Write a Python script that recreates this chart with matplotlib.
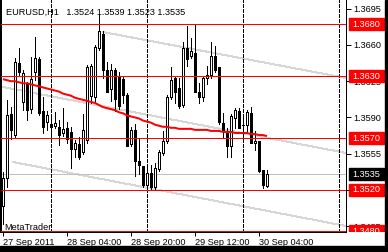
import numpy as np
import matplotlib
matplotlib.use('Agg')
import matplotlib.pyplot as plt
from matplotlib.patches import Rectangle

plt.rcParams['font.family'] = ['Liberation Sans', 'DejaVu Sans']

# EURUSD H1, bars from 27 Sep 2011 12:00 to 30 Sep 2011 06:00
opens = [1.3505, 1.3532, 1.3593, 1.3573, 1.3643, 1.3605, 1.3623, 1.3598, 1.3634, 1.3646,
         1.3596, 1.3586, 1.3584, 1.3582, 1.3581, 1.3575, 1.3580, 1.3576, 1.3560, 1.3564,
         1.3557, 1.3568, 1.3611, 1.3610, 1.3657, 1.3671, 1.3636, 1.3617, 1.3636, 1.3629,
         1.3627, 1.3612, 1.3564, 1.3578, 1.3548, 1.3543, 1.3525, 1.3536, 1.3523, 1.3540,
         1.3556, 1.3567, 1.3610, 1.3628, 1.3618, 1.3602, 1.3657, 1.3649, 1.3652, 1.3615,
         1.3610, 1.3628, 1.3631, 1.3649, 1.3639, 1.3585, 1.3575, 1.3562, 1.3589, 1.3596,
         1.3583, 1.3583, 1.3594, 1.3565, 1.3567, 1.3539, 1.3524]
highs = [1.3537, 1.3607, 1.3600, 1.3647, 1.3657, 1.3636, 1.3624, 1.3648, 1.3668, 1.3648,
         1.3610, 1.3596, 1.3589, 1.3595, 1.3588, 1.3599, 1.3586, 1.3581, 1.3568, 1.3571,
         1.3593, 1.3641, 1.3642, 1.3660, 1.3689, 1.3673, 1.3644, 1.3642, 1.3638, 1.3634,
         1.3630, 1.3614, 1.3581, 1.3584, 1.3569, 1.3543, 1.3545, 1.3544, 1.3546, 1.3559,
         1.3577, 1.3612, 1.3639, 1.3630, 1.3628, 1.3663, 1.3678, 1.3667, 1.3679, 1.3623,
         1.3630, 1.3640, 1.3663, 1.3659, 1.3639, 1.3594, 1.3580, 1.3593, 1.3599, 1.3599,
         1.3592, 1.3597, 1.3600, 1.3577, 1.3567, 1.3539, 1.3539]
lows = [1.3487, 1.3523, 1.3569, 1.3570, 1.3631, 1.3597, 1.3588, 1.3594, 1.3626, 1.3592,
        1.3575, 1.3578, 1.3571, 1.3580, 1.3563, 1.3572, 1.3565, 1.3541, 1.3552, 1.3550,
        1.3555, 1.3565, 1.3604, 1.3604, 1.3655, 1.3628, 1.3615, 1.3606, 1.3596, 1.3598,
        1.3604, 1.3562, 1.3562, 1.3533, 1.3535, 1.3523, 1.3522, 1.3521, 1.3521, 1.3538,
        1.3554, 1.3565, 1.3608, 1.3604, 1.3599, 1.3600, 1.3640, 1.3647, 1.3615, 1.3604,
        1.3606, 1.3622, 1.3628, 1.3634, 1.3584, 1.3570, 1.3552, 1.3552, 1.3580, 1.3580,
        1.3577, 1.3575, 1.3565, 1.3559, 1.3537, 1.3522, 1.3523]
closes = [1.3532, 1.3592, 1.3578, 1.3644, 1.3634, 1.3633, 1.3597, 1.3627, 1.3647, 1.3594,
          1.3581, 1.3592, 1.3581, 1.3585, 1.3573, 1.3579, 1.3569, 1.3560, 1.3565, 1.3552,
          1.3578, 1.3639, 1.3640, 1.3658, 1.3673, 1.3636, 1.3615, 1.3636, 1.3608, 1.3601,
          1.3612, 1.3562, 1.3578, 1.3548, 1.3544, 1.3525, 1.3536, 1.3523, 1.3541, 1.3557,
          1.3567, 1.3610, 1.3626, 1.3615, 1.3601, 1.3657, 1.3646, 1.3654, 1.3615, 1.3610,
          1.3628, 1.3631, 1.3649, 1.3636, 1.3586, 1.3577, 1.3562, 1.3591, 1.3597, 1.3580,
          1.3583, 1.3595, 1.3565, 1.3567, 1.3538, 1.3525, 1.3535]
ma = [1.3627, 1.3626, 1.3625, 1.3625, 1.3624, 1.3623, 1.3623, 1.3622, 1.3621, 1.3620,
      1.3619, 1.3618, 1.3617, 1.3616, 1.3615, 1.3613, 1.3612, 1.3611, 1.3609, 1.3608,
      1.3607, 1.3606, 1.3605, 1.3604, 1.3602, 1.3600, 1.3599, 1.3598, 1.3597, 1.3595,
      1.3594, 1.3592, 1.3591, 1.3590, 1.3589, 1.3587, 1.3586, 1.3585, 1.3583, 1.3582,
      1.3581, 1.3581, 1.3580, 1.3580, 1.3579, 1.3579, 1.3579, 1.3579, 1.3578, 1.3578,
      1.3578, 1.3578, 1.3577, 1.3577, 1.3577, 1.3576, 1.3576, 1.3576, 1.3575, 1.3575,
      1.3575, 1.3575, 1.3574, 1.3574, 1.3573, 1.3573, 1.3572]

levels = [1.3680, 1.3630, 1.3570, 1.3520, 1.3480]
bid = 1.3535
price_ticks = [1.3485, 1.3520, 1.3555, 1.3590, 1.3625, 1.3660, 1.3695]
hidden_ticks = [1.3520]  # fully under a level label
day_breaks = [12, 36, 60, 84]
time_ticks = [0, 16, 32, 48, 64]
time_labels = ['27 Sep 2011', '28 Sep 04:00', '28 Sep 20:00', '29 Sep 12:00', '30 Sep 04:00']
# channel lines, start and end (bar, price)
chan_bar0 = [25, 0, 2.5]
chan_p0 = [1.36725, 1.36194, 1.35470]
chan_bar1 = [85.75, 85.75, 85.75]
chan_p1 = [1.36281, 1.35557, 1.34852]

W, H = 388, 252
YLO, YHI = 1.34799, 1.37034
FS = 6.6
PX = 0.72  # one pixel in points


def px(x0, y0, x1, y1):
    return [x0 / W, 1 - y1 / H, (x1 - x0) / W, (y1 - y0) / H]


fig = plt.figure(figsize=(W / 100, H / 100), dpi=100)
ax = fig.add_axes(px(1, 0, 346, 231.5))
ax.set_xlim(-0.5, 85.75)
ax.set_ylim(YLO, YHI)

x = np.arange(len(opens))
o = np.array(opens); c = np.array(closes)
up = c >= o

# channel + bid line
for b0, p0, b1, p1 in zip(chan_bar0, chan_p0, chan_bar1, chan_p1):
    ax.plot([b0, b1], [p0, p1], color='#d6d6d6', lw=PX, antialiased=False, zorder=1)
ax.axhline(bid, color='#c0c0c0', lw=PX, antialiased=False, zorder=1)

# day separators
ax.vlines(day_breaks, YLO, YHI, colors='black', linestyles=(0, (3, 2)), lw=PX,
          antialiased=False, zorder=2)

# candles
ax.vlines(x, lows, highs, colors='black', lw=PX, antialiased=False, zorder=3)
ax.bar(x, np.abs(c - o), bottom=np.minimum(o, c), width=0.5,
       color=np.where(up, 'white', 'black'), edgecolor='black', lw=PX,
       antialiased=False, zorder=4)

for lv in levels:
    ax.axhline(lv, color='red', lw=PX, antialiased=False, zorder=5)
ax.plot(x, ma, color='red', lw=2 * PX, zorder=6, solid_capstyle='butt')

ax.spines['top'].set_visible(False)
ax.spines['left'].set_linewidth(2 * PX)
ax.spines['right'].set_linewidth(PX)
ax.spines['bottom'].set_linewidth(PX)

ax.yaxis.tick_right()
ax.set_yticks(price_ticks)
ax.set_yticklabels(['' if t in hidden_ticks else '%.4f' % t for t in price_ticks])
ax.tick_params(axis='y', length=3.5, width=PX, pad=2, labelsize=FS)
ax.set_xticks(time_ticks)
ax.set_xticklabels(time_labels, ha='left')
ax.tick_params(axis='x', length=3, width=PX, pad=1.5, labelsize=FS)

# price labels on the scale
sc = fig.add_axes(px(346, 0, 388, 231.5))
sc.set_xlim(0, 42)
sc.set_ylim(YLO, YHI)
sc.axis('off')
bh = 12 / 231.5 * (YHI - YLO)
for lv, col in [(l, 'red') for l in levels] + [(bid, 'black')]:
    sc.add_patch(Rectangle((3, lv - bh / 2), 35, bh, color=col, zorder=5))
    sc.text(6, lv, '%.4f' % lv, color='white', fontsize=FS, va='center', ha='left',
            zorder=6, clip_on=True)

fig.text(6.5 / W, 1 - 15 / H, 'EURUSD,H1   1.3524 1.3539 1.3523 1.3535',
         fontsize=FS, va='baseline', ha='left')
fig.text(4 / W, 1 - 230 / H, 'MetaTrader', fontsize=FS, va='baseline', ha='left')

fig.add_artist(Rectangle((385 / W, 0), 3 / W, 1, transform=fig.transFigure, color='black'))
fig.add_artist(Rectangle((0, 0), 1, 6 / H, transform=fig.transFigure, color='black'))

fig.savefig('out.png', dpi=100)
